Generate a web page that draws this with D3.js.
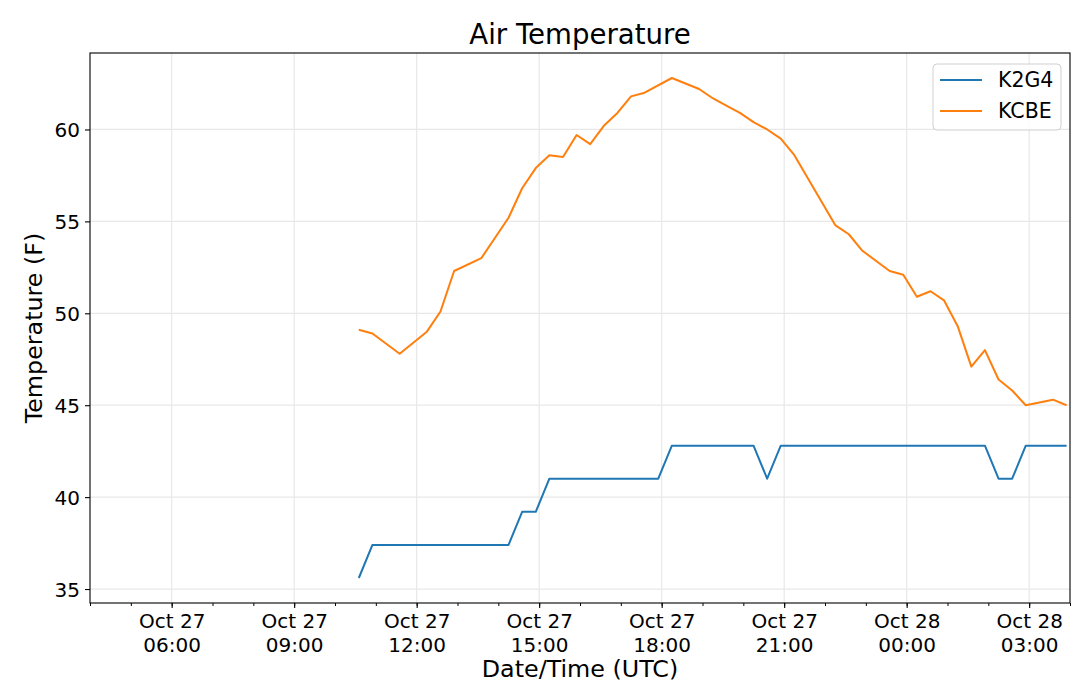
<!DOCTYPE html>
<html>
<head>
<meta charset="utf-8">
<script src="https://cdn.jsdelivr.net/npm/d3@7"></script>
<style>
  body { margin: 0; background: #fff; }
  svg text { font-family: "DejaVu Sans", sans-serif; fill: #000; }
</style>
</head>
<body>
<div id="chart"></div>
<script>
// Station observations, UTC (only the vertices visible on the plot)
const k2g4Times = ["2019-10-27T10:35", "2019-10-27T10:55", "2019-10-27T14:15", "2019-10-27T14:35",
  "2019-10-27T14:55", "2019-10-27T15:15", "2019-10-27T17:55", "2019-10-27T18:15",
  "2019-10-27T20:15", "2019-10-27T20:35", "2019-10-27T20:55", "2019-10-28T01:55",
  "2019-10-28T02:15", "2019-10-28T02:35", "2019-10-28T02:55", "2019-10-28T03:55"];
const k2g4Temps = [35.6, 37.4, 37.4, 39.2, 39.2, 41.0, 41.0, 42.8,
  42.8, 41.0, 42.8, 42.8, 41.0, 41.0, 42.8, 42.8];

const kcbeTimes = ["2019-10-27T10:35", "2019-10-27T10:55", "2019-10-27T11:35", "2019-10-27T11:55",
  "2019-10-27T12:15", "2019-10-27T12:35", "2019-10-27T12:55", "2019-10-27T13:35",
  "2019-10-27T14:15", "2019-10-27T14:35", "2019-10-27T14:55", "2019-10-27T15:15",
  "2019-10-27T15:35", "2019-10-27T15:55", "2019-10-27T16:15", "2019-10-27T16:35",
  "2019-10-27T16:55", "2019-10-27T17:15", "2019-10-27T17:35", "2019-10-27T18:15",
  "2019-10-27T18:35", "2019-10-27T18:55", "2019-10-27T19:15", "2019-10-27T19:35",
  "2019-10-27T19:55", "2019-10-27T20:15", "2019-10-27T20:35", "2019-10-27T20:55",
  "2019-10-27T21:15", "2019-10-27T22:15", "2019-10-27T22:35", "2019-10-27T22:55",
  "2019-10-27T23:35", "2019-10-27T23:55", "2019-10-28T00:15", "2019-10-28T00:35",
  "2019-10-28T00:55", "2019-10-28T01:15", "2019-10-28T01:35", "2019-10-28T01:55",
  "2019-10-28T02:15", "2019-10-28T02:35", "2019-10-28T02:55", "2019-10-28T03:35",
  "2019-10-28T03:55"];
const kcbeTemps = [49.1, 48.9, 47.8, 48.4,
  49.0, 50.1, 52.3, 53.0,
  55.2, 56.8, 57.9, 58.6,
  58.5, 59.7, 59.2, 60.2,
  60.9, 61.8, 62.0, 62.8,
  62.5, 62.2, 61.7, 61.3,
  60.9, 60.4, 60.0, 59.5,
  58.6, 54.8, 54.3, 53.4,
  52.3, 52.1, 50.9, 51.2,
  50.7, 49.3, 47.1, 48.0,
  46.4, 45.8, 45.0, 45.3,
  45.0];

const seriesNames = ["K2G4", "KCBE"];
const seriesColors = ["#1f77b4", "#ff7f0e"];
const yTicks = [35, 40, 45, 50, 55, 60];
const xStart = "2019-10-27T04:00", xEnd = "2019-10-28T04:00";

const width = 1080, height = 685;
const margin = { top: 53, right: 10, bottom: 82, left: 90 };
const innerW = width - margin.left - margin.right;
const innerH = height - margin.top - margin.bottom;

const parse = s => new Date(s + ":00Z");
const series = [
  k2g4Times.map((t, i) => ({ t: parse(t), v: k2g4Temps[i] })),
  kcbeTimes.map((t, i) => ({ t: parse(t), v: kcbeTemps[i] }))
];

const svg = d3.select("#chart").append("svg")
  .attr("width", width)
  .attr("height", height);

const g = svg.append("g").attr("transform", `translate(${margin.left},${margin.top})`);

const x = d3.scaleUtc().domain([parse(xStart), parse(xEnd)]).range([0, innerW]);
const y = d3.scaleLinear().domain([34.24, 64.16]).range([innerH, 0]);

const majorTicks = x.ticks(d3.utcHour.every(3)).filter(d => d > x.domain()[0]);
const minorTicks = x.ticks(d3.utcHour.every(1));

// grid
g.append("g").selectAll("line").data(majorTicks).join("line")
  .attr("x1", d => x(d)).attr("x2", d => x(d))
  .attr("y1", 0).attr("y2", innerH)
  .attr("stroke", "#e8e8e8").attr("stroke-width", 1.2);
g.append("g").selectAll("line").data(yTicks).join("line")
  .attr("x1", 0).attr("x2", innerW)
  .attr("y1", d => y(d)).attr("y2", d => y(d))
  .attr("stroke", "#e8e8e8").attr("stroke-width", 1.2);

// lines
const line = d3.line().x(d => x(d.t)).y(d => y(d.v));
series.forEach((s, i) => {
  g.append("path")
    .datum(s)
    .attr("fill", "none")
    .attr("stroke", seriesColors[i])
    .attr("stroke-width", 2)
    .attr("stroke-linejoin", "round")
    .attr("d", line);
});

// x axis: minor then major ticks
g.append("g")
  .attr("transform", `translate(0,${innerH})`)
  .call(d3.axisBottom(x).tickValues(minorTicks).tickSize(3).tickFormat(""))
  .call(a => a.select(".domain").remove())
  .selectAll("line").attr("stroke-width", 1);

const fmtDay = d3.utcFormat("%b %d"), fmtHour = d3.utcFormat("%H:%M");
const xAxis = g.append("g")
  .attr("transform", `translate(0,${innerH})`)
  .call(d3.axisBottom(x).tickValues(majorTicks).tickSize(5).tickPadding(0).tickFormat(""));
xAxis.select(".domain").remove();
xAxis.selectAll(".tick line").attr("stroke-width", 1.1);
xAxis.selectAll(".tick").append("text")
  .attr("text-anchor", "middle")
  .attr("font-size", 20)
  .each(function (d) {
    const t = d3.select(this);
    t.append("tspan").attr("x", 0).attr("y", 25).text(fmtDay(d));
    t.append("tspan").attr("x", 0).attr("y", 49).text(fmtHour(d));
  });

// y axis
const yAxis = g.append("g")
  .call(d3.axisLeft(y).tickValues(yTicks).tickSize(5).tickPadding(5));
yAxis.select(".domain").remove();
yAxis.selectAll(".tick line").attr("stroke-width", 1.1);
yAxis.selectAll(".tick text").attr("font-size", 20).attr("dy", "0.35em")
  .style("font-family", "DejaVu Sans");

// frame
g.append("rect")
  .attr("width", innerW).attr("height", innerH)
  .attr("fill", "none").attr("stroke", "#000").attr("stroke-width", 1.1);

// labels
svg.append("text")
  .attr("x", margin.left + innerW / 2).attr("y", 44)
  .attr("text-anchor", "middle").attr("font-size", 27.6)
  .text("Air Temperature");
svg.append("text")
  .attr("x", margin.left + innerW / 2).attr("y", 677)
  .attr("text-anchor", "middle").attr("font-size", 23.8)
  .text("Date/Time (UTC)");
svg.append("text")
  .attr("transform", `translate(42,${margin.top + innerH / 2}) rotate(-90)`)
  .attr("text-anchor", "middle").attr("font-size", 23.8)
  .text("Temperature (F)");

// legend
const lg = svg.append("g").attr("transform", "translate(933,64)");
lg.append("rect")
  .attr("width", 128).attr("height", 66).attr("rx", 4)
  .attr("fill", "#fff").attr("fill-opacity", 0.8)
  .attr("stroke", "#d0d0d0").attr("stroke-width", 1);
seriesNames.forEach((name, i) => {
  const yy = 16 + i * 31;
  lg.append("line")
    .attr("x1", 7).attr("x2", 49).attr("y1", yy).attr("y2", yy)
    .attr("stroke", seriesColors[i]).attr("stroke-width", 2);
  lg.append("text")
    .attr("x", 65).attr("y", yy).attr("dy", "0.35em")
    .attr("font-size", 20.5)
    .text(name);
});
</script>
</body>
</html>
